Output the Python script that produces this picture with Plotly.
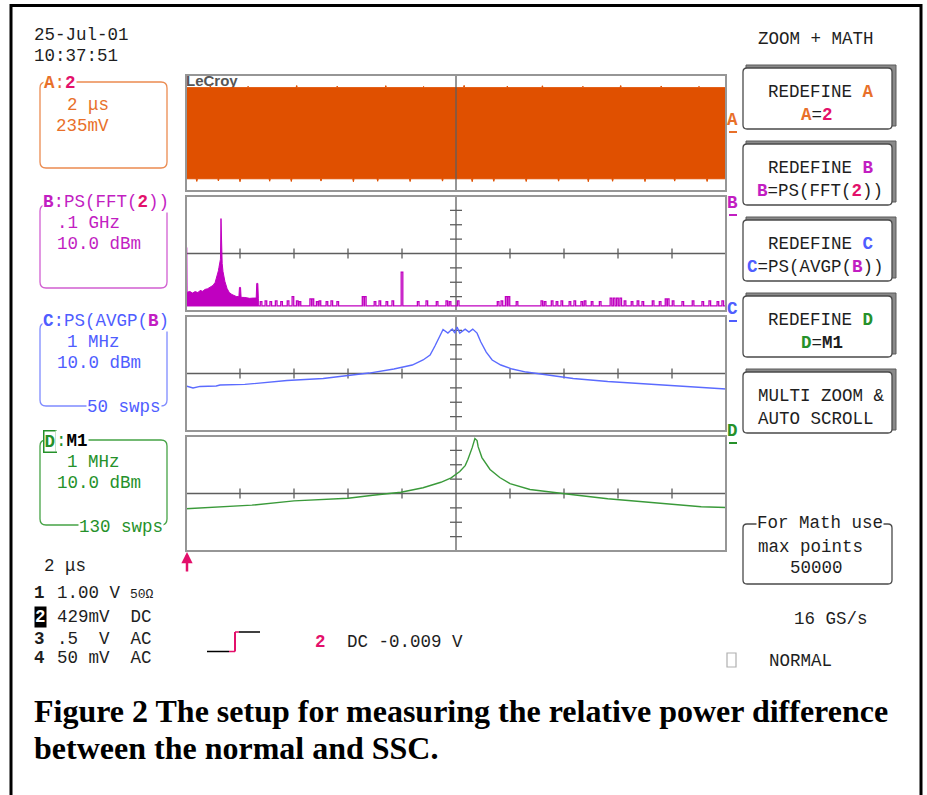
import plotly.graph_objects as go

W, H = 927, 795

# ---------------- data ----------------
# Trace A: 2 us/div, 235 mV/div -- envelope of the dense clock waveform
A_span_us = [0, 20]
A_top_mV = 735
A_bottom_mV = -742
A_top_spike_us = [0.9, 2.3, 4.1, 5.6, 7.4, 8.8, 10.3, 11.9, 13.2, 14.7, 16.1, 17.6, 19.0]
A_top_spike_mV = [765, 758, 770, 760, 768, 755, 772, 760, 766, 758, 770, 762, 757]
A_bot_spike_us = [0.4, 1.2, 2.0, 3.1, 3.9, 5.0, 6.2, 7.1, 8.3, 9.5, 10.6, 11.4, 12.6, 13.8, 14.9, 15.8, 17.0, 18.1,
                  19.3]
A_bot_spike_mV = [-785, -778, -790, -782, -786, -779, -790, -783, -787, -780, -789, -784, -786, -781, -790, -783,
                  -788, -780, -786]
A_volts_per_div_mV = 235

# Trace B: FFT power spectrum, 0.1 GHz/div, 10 dB/div
B_dense_MHz = [0, 1.5, 2, 7, 12, 17, 22, 26, 31, 35, 40, 44, 50, 54, 57, 60, 61, 62.5, 63.8, 64.8, 65.8, 67,
               68.5, 72, 76, 80, 85, 93, 98, 99, 101, 102, 109, 118, 125, 130, 131, 133, 134]
B_dense_dBm = [4.2, 4.2, -27, -26.4, -27.5, -26.5, -27.2, -25.7, -26.3, -25, -24.5, -23.6, -22.2, -20.1, -16.7, -12,
               -9.7, -7, -4, 24.3, -4, -7, -12.5, -19.4, -24.3, -27.1, -28.5, -29.9, -30, -23.6, -23.6, -30.5,
               -30.6, -31.2, -31, -31, -20.8, -20.8, -31.5]
B_floor_dBm = -36.5
B_pulse_MHz = [139, 148, 157, 167, 177, 189, 198, 206, 211, 231, 235, 243, 248, 261, 270, 281, 328, 332, 350, 359,
               372, 383, 400, 430, 446, 465, 483, 489, 504, 578, 585, 593, 598, 613, 659, 665, 678, 687, 696, 711,
               720, 733, 739, 752, 767, 787, 793, 799, 805, 813, 826, 837, 846, 865, 878, 889, 893, 902, 920, 939,
               957, 970, 985, 994]
B_pulse_dBm = [-33.5, -33, -33.5, -33, -33.5, -33, -30, -33, -33.5, -31.5, -31.5, -33.5, -33, -33.5, -33, -33.5,
               -30, -30, -33.5, -33, -33.5, -33, -13, -33.5, -33, -33.5, -33, -33.5, -33, -33.5, -33, -30, -30,
               -33.5, -33, -33.5, -33, -33.5, -33, -33.5, -33, -33.5, -33, -33.5, -33.5, -31, -31, -31, -31, -33,
               -33.5, -33, -33.5, -33, -33.5, -31.5, -31.5, -33, -33.5, -33, -33.5, -33, -33.5, -33]

# Trace C: averaged spectrum of the spread-spectrum clock, 1 MHz/div, 10 dB/div
C_MHz = [-5.0, -4.87, -4.74, -4.44, -4.37, -3.91, -3.13, -2.46, -2.0, -1.61, -1.15, -0.81, -0.61, -0.48, -0.39,
         -0.31, -0.24, -0.15, -0.07, -0.02, 0.02, 0.07, 0.17, 0.24, 0.31, 0.39, 0.46, 0.56, 0.67, 0.83, 1.04,
         1.30, 1.5, 1.83, 2.17, 2.81, 3.48, 4.0, 4.46, 5.0]
C_dBm = [-8.7, -10.1, -9.0, -8.7, -8.0, -7.6, -4.9, -3.5, -1.4, 0.3, 3.1, 5.9, 9.4, 12.8, 19.1, 25.3, 30.6, 28.1,
         30.9, 28.1, 32.3, 28.1, 30.9, 28.8, 30.9, 28.1, 21.9, 14.9, 9.4, 5.9, 3.1, 1.0, 0.0, -1.7, -3.5, -5.6,
         -7.3, -8.7, -9.7, -10.8]

# Trace D: averaged spectrum of the normal (non-spread) clock
D_MHz = [-5.0, -4.24, -3.78, -3.0, -2.33, -2.0, -1.54, -1.02, -0.61, -0.28, -0.09, 0.07, 0.17, 0.22, 0.30, 0.33,
         0.35, 0.39, 0.41, 0.48, 0.63, 0.81, 1.0, 1.37, 1.83, 2.17, 2.81, 3.48, 4.15, 4.54, 5.0]
D_dBm = [-10.6, -9.2, -8.1, -5.1, -3.7, -3.3, -1.2, 0.9, 4.0, 7.8, 10.9, 15.3, 19.4, 23.6, 31.9, 36.1, 38.2, 36.8,
         32.6, 25.0, 16.7, 11.1, 6.9, 2.8, 0.9, -0.9, -3.7, -6.0, -8.3, -9.2, -9.7]

dB_per_div = 10

# ---------------- styling ----------------
MONO = "Liberation Mono"
FS = 17.5
INK = "#1E1E1E"
ORANGE_TXT, ORANGE_TRACE, ORANGE_BOX = "#E8702A", "#E05000", "#EB8B50"
MAG_TXT, MAG_TRACE, MAG_BOX = "#C21EC2", "#C000C0", "#D15FD1"
BLUE_TXT, BLUE_TRACE, BLUE_BOX = "#4F5DFF", "#5B6BFF", "#7F8BFF"
GREEN_TXT, GREEN_TRACE, GREEN_BOX = "#25912A", "#3A9A3A", "#45A345"
CRIMSON = "#E3106B"
GRID = "#5E5E5E"
FRAME = "#969696"


def fx(x):
    return x / W


def fy(y):
    return 1 - y / H


def P(x, y):
    return f"{fx(x):.5f},{fy(y):.5f}"


def rrect_path(x0, y0, x1, y1, r):
    return (f"M {P(x0 + r, y0)} L {P(x1 - r, y0)} Q {P(x1, y0)} {P(x1, y0 + r)} "
            f"L {P(x1, y1 - r)} Q {P(x1, y1)} {P(x1 - r, y1)} L {P(x0 + r, y1)} "
            f"Q {P(x0, y1)} {P(x0, y1 - r)} L {P(x0, y0 + r)} Q {P(x0, y0)} {P(x0 + r, y0)} Z")


def col(s, c, bold=True):
    t = f"<span style='color:{c}'>{s}</span>"
    return f"<b>{t}</b>" if bold else t


annotations = []
shapes = []


def txt(x, y, s, color=INK, size=FS, anchor="left", family=MONO, bg=None, **kw):
    d = dict(x=fx(x - 2 if anchor == "left" else x), y=fy(y), xref="paper", yref="paper", text=s,
             showarrow=False, xanchor=anchor, yanchor="middle",
             font=dict(family=family, size=size, color=color), borderpad=0)
    if bg:
        d["bgcolor"] = bg
    d.update(kw)
    annotations.append(d)


def pline(x0, y0, x1, y1, color, width=1.5, layer="above"):
    shapes.append(dict(type="line", xref="paper", yref="paper", x0=fx(x0), y0=fy(y0), x1=fx(x1), y1=fy(y1),
                       line=dict(color=color, width=width), layer=layer))


def prrect(x0, y0, x1, y1, r, color, width=1.3, fill=None, layer="above"):
    d = dict(type="path", xref="paper", yref="paper", path=rrect_path(x0, y0, x1, y1, r),
             line=dict(color=color, width=width), layer=layer)
    if fill:
        d["fillcolor"] = fill
    shapes.append(d)


def spiky_edge(t0, t1, base, spike_t, spike_v, hw=0.025):
    xs, ys = [t0], [base]
    for t, v in zip(spike_t, spike_v):
        xs += [t - hw, t, t + hw]
        ys += [base, v, base]
    xs.append(t1)
    ys.append(base)
    return xs, ys


# ---------------- panels ----------------
PX0, PX1 = 186, 726
panels = {  # name: (top, bottom) in screen pixels
    "A": (75, 191),
    "B": (196, 311),
    "C": (316, 431),
    "D": (436, 551),
}

fig = go.Figure()

# Trace A: LeCroy logo sits underneath the waveform
fig.add_trace(go.Scatter(x=[A_span_us[0]], y=[4 * A_volts_per_div_mV], mode="text", text=["<b>LeCroy</b>"],
                         textposition="bottom right",
                         textfont=dict(family="Liberation Sans", size=15, color="#555555"),
                         xaxis="x", yaxis="y", hoverinfo="skip"))
tx, ty = spiky_edge(A_span_us[0], A_span_us[1], A_top_mV, A_top_spike_us, A_top_spike_mV)
bx_, by_ = spiky_edge(A_span_us[0], A_span_us[1], A_bottom_mV, A_bot_spike_us, A_bot_spike_mV)
fig.add_trace(go.Scatter(x=tx + bx_[::-1], y=ty + by_[::-1], fill="toself",
                         fillcolor=ORANGE_TRACE, line=dict(color=ORANGE_TRACE, width=1), mode="lines",
                         xaxis="x", yaxis="y", hoverinfo="skip"))

# Trace B: dense low-frequency part
fig.add_trace(go.Scatter(x=B_dense_MHz + [B_dense_MHz[-1], B_dense_MHz[0]],
                         y=B_dense_dBm + [B_floor_dBm, B_floor_dBm], fill="toself", fillcolor=MAG_TRACE,
                         line=dict(color=MAG_TRACE, width=1), mode="lines", xaxis="x2", yaxis="y2",
                         hoverinfo="skip"))
# Trace B: noise floor with spectral lines
hw = 1.5
bx, by = [B_dense_MHz[-1]], [B_floor_dBm]
for f, lv in zip(B_pulse_MHz, B_pulse_dBm):
    bx += [f - hw, f - hw, f + hw, f + hw]
    by += [B_floor_dBm, lv, lv, B_floor_dBm]
bx.append(1000)
by.append(B_floor_dBm)
fig.add_trace(go.Scatter(x=bx, y=by, mode="lines", line=dict(color=MAG_TRACE, width=1.3), xaxis="x2",
                         yaxis="y2", hoverinfo="skip"))

fig.add_trace(go.Scatter(x=C_MHz, y=C_dBm, mode="lines", line=dict(color=BLUE_TRACE, width=1.4), xaxis="x3",
                         yaxis="y3", hoverinfo="skip"))
fig.add_trace(go.Scatter(x=D_MHz, y=D_dBm, mode="lines", line=dict(color=GREEN_TRACE, width=1.4), xaxis="x4",
                         yaxis="y4", hoverinfo="skip"))

axis_common = dict(visible=False, fixedrange=True)
ranges = {
    "A": (A_span_us, [-4 * A_volts_per_div_mV, 4 * A_volts_per_div_mV]),
    "B": ([0, 1000], [-4 * dB_per_div, 4 * dB_per_div]),
    "C": ([-5, 5], [-4 * dB_per_div, 4 * dB_per_div]),
    "D": ([-5, 5], [-4 * dB_per_div, 4 * dB_per_div]),
}
layout_axes = {}
for i, name in enumerate(["A", "B", "C", "D"]):
    n = "" if i == 0 else str(i + 1)
    top, bot = panels[name]
    xr, yr = ranges[name]
    layout_axes[f"xaxis{n}"] = dict(domain=[fx(PX0), fx(PX1)], range=xr, anchor=f"y{n}", **axis_common)
    layout_axes[f"yaxis{n}"] = dict(domain=[fy(bot), fy(top)], range=yr, anchor=f"x{n}", **axis_common)

    xref, yref = f"x{n} domain", f"y{n} domain"
    ph = bot - top
    pw = PX1 - PX0
    if name == "A":
        shapes.append(dict(type="line", xref=xref, yref=yref, x0=0.5, x1=0.5, y0=0, y1=1,
                           line=dict(color=GRID, width=1.3), layer="above"))
    else:
        shapes.append(dict(type="line", xref=xref, yref=yref, x0=0, x1=1, y0=0.5, y1=0.5,
                           line=dict(color=GRID, width=1.3), layer="below"))
        shapes.append(dict(type="line", xref=xref, yref=yref, x0=0.5, x1=0.5, y0=0, y1=1,
                           line=dict(color=GRID, width=1.3), layer="below"))
        for k in range(1, 10):
            if k == 5:
                continue
            shapes.append(dict(type="line", xref=xref, yref=yref, x0=k / 10, x1=k / 10,
                               y0=0.5 - 5 / ph, y1=0.5 + 5 / ph, line=dict(color=GRID, width=1.3),
                               layer="below"))
        for k in range(1, 8):
            if k == 4:
                continue
            shapes.append(dict(type="line", xref=xref, yref=yref, y0=k / 8, y1=k / 8,
                               x0=0.5 - 6 / pw, x1=0.5 + 6 / pw, line=dict(color=GRID, width=1.3),
                               layer="below"))
    shapes.append(dict(type="rect", xref=xref, yref=yref, x0=0, x1=1, y0=0, y1=1,
                       line=dict(color=FRAME, width=2), layer="above"))

# ---------------- outer frame ----------------
shapes.append(dict(type="rect", xref="paper", yref="paper", x0=fx(11), x1=fx(921), y0=fy(812), y1=fy(5.5),
                   line=dict(color="black", width=3), layer="above"))

# ---------------- top-left date / time ----------------
txt(35, 35, "25-Jul-01")
txt(35, 56, "10:37:51")
txt(759, 39, "ZOOM + MATH")

# ---------------- left info boxes ----------------
prrect(40, 82, 167, 168, 6, ORANGE_BOX)
txt(45, 83, f"<b>A</b>:{col('2', CRIMSON)}", color=ORANGE_TXT, bg="white")
txt(68, 105, "2 μs", color=ORANGE_TXT)
txt(57, 126, "235mV", color=ORANGE_TXT)

prrect(40, 205, 167, 288, 6, MAG_BOX)
txt(44, 202, f"<b>B</b>:PS(FFT({col('2', CRIMSON)}))", color=MAG_TXT, bg="white")
txt(58, 223, ".1 GHz", color=MAG_TXT)
txt(58, 244, "10.0 dBm", color=MAG_TXT)

prrect(40, 323, 167, 406, 6, BLUE_BOX)
txt(44, 321, f"<b>C</b>:PS(AVGP({col('B', MAG_TXT)})", color=BLUE_TXT, bg="white")
txt(68, 342, "1 MHz", color=BLUE_TXT)
txt(58, 363, "10.0 dBm", color=BLUE_TXT)
txt(88, 407, "50 swps", color=BLUE_TXT, bg="white")

prrect(40, 440, 167, 525, 6, GREEN_BOX)
txt(45, 441, "<b>D</b>", color=GREEN_TXT, bg="white", bordercolor=GREEN_TXT, borderwidth=1.5)
txt(57, 441, f":{col('M1', '#000000')}", color=GREEN_TXT, bg="white")
txt(68, 462, "1 MHz", color=GREEN_TXT)
txt(58, 483, "10.0 dBm", color=GREEN_TXT)
txt(80, 527, "130 swps", color=GREEN_TXT, bg="white")

# ---------------- trace letters at right of grid ----------------
for letter, c, cy in [("A", ORANGE_TXT, 120), ("B", MAG_TXT, 203), ("C", BLUE_TXT, 309), ("D", GREEN_TXT, 431)]:
    txt(728, cy, f"<b>{letter}</b>", color=c)
    pline(729, cy + 12, 737, cy + 12, c, width=2)

# ---------------- menu buttons ----------------
btn_tops = [68, 144, 220, 296, 372]
btn_lines = [
    (f"REDEFINE {col('A', ORANGE_TXT)}", 769, f"{col('A', ORANGE_TXT)}={col('2', CRIMSON)}", 802),
    (f"REDEFINE {col('B', MAG_TXT)}", 769, f"{col('B', MAG_TXT)}=PS(FFT({col('2', CRIMSON)}))", 758),
    (f"REDEFINE {col('C', BLUE_TXT)}", 769, f"{col('C', BLUE_TXT)}=PS(AVGP({col('B', MAG_TXT)}))", 748),
    (f"REDEFINE {col('D', GREEN_TXT)}", 769, f"{col('D', GREEN_TXT)}=<b>M1</b>", 802),
    ("MULTI ZOOM &amp;", 759, "AUTO SCROLL", 759),
]
for top, (l1, x1, l2, x2) in zip(btn_tops, btn_lines):
    shapes.append(dict(type="rect", xref="paper", yref="paper", x0=fx(746), x1=fx(896), y0=fy(top + 58),
                       y1=fy(top - 3), fillcolor="#8A8A8A", line=dict(color="#5A5A5A", width=1), layer="above"))
    prrect(743, top, 892, top + 61, 4, "#4A4A4A", width=1.3, fill="white")
    txt(x1, top + 24, l1)
    txt(x2, top + 47, l2)

prrect(743, 524, 892, 584, 4, "#4A4A4A", width=1.3)
txt(758, 523, "For Math use", bg="white")
txt(759, 547, "max points")
txt(791, 568, "50000")

txt(795, 619, "16 GS/s")
shapes.append(dict(type="rect", xref="paper", yref="paper", x0=fx(727), x1=fx(736), y0=fy(667), y1=fy(653),
                   line=dict(color="#B0B0B0", width=1.2), layer="above"))
txt(770, 661, "NORMAL")

# ---------------- bottom-left channel settings ----------------
txt(45, 566, "2 μs")
txt(35, 593, "<b>1</b>")
txt(58, 593, "1.00 V")
txt(131, 594, "50Ω", size=13)
txt(36, 617, "<b>2</b>", color="white", bg="black")
txt(58, 617, "429mV  DC")
txt(35, 639, "<b>3</b>")
txt(58, 639, ".5  V  AC")
txt(35, 658, "<b>4</b>")
txt(58, 658, "50 mV  AC")

# trigger icon
pline(207, 651.5, 229, 651.5, "black", 1.5)
pline(229, 651.5, 235, 651.5, CRIMSON, 1.5)
pline(235, 651.5, 235, 632, CRIMSON, 2)
pline(235, 632, 239, 632, CRIMSON, 1.5)
pline(239, 632, 260, 632, "black", 1.5)
txt(316, 642, f"{col('2', CRIMSON)}")
txt(348, 642, "DC -0.009 V")

# trigger-position arrow
annotations.append(dict(x=fx(187), y=fy(552), xref="paper", yref="paper", text="", showarrow=True,
                        ax=0, ay=21, arrowhead=2, arrowsize=0.9, arrowwidth=2.5, arrowcolor=CRIMSON))

# ---------------- caption ----------------
txt(35, 711, "<b>Figure 2 The setup for measuring the relative power difference</b>", family="Liberation Serif",
    size=32, color="black")
txt(35, 748, "<b>between the normal and SSC.</b>", family="Liberation Serif", size=32, color="black")

fig.update_layout(width=W, height=H, margin=dict(l=0, r=0, t=0, b=0), paper_bgcolor="white",
                  plot_bgcolor="rgba(0,0,0,0)", showlegend=False, shapes=shapes, annotations=annotations,
                  **layout_axes)
fig.write_html("out.html", config={"displayModeBar": False},
               post_script="document.body.style.margin='0px';document.body.style.overflow='hidden';")
